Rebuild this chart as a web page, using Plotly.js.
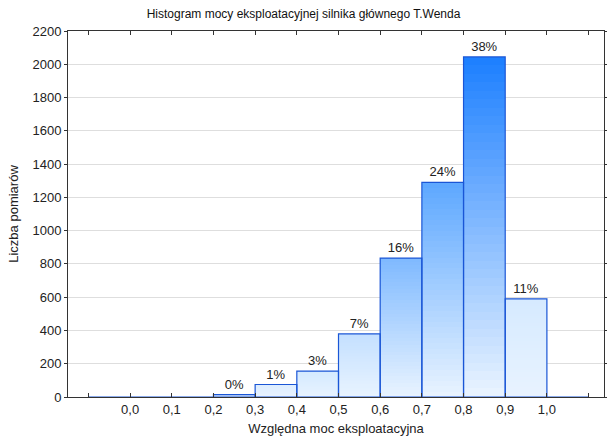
<!DOCTYPE html>
<html>
<head>
<meta charset="utf-8">
<script src="https://cdn.plot.ly/plotly-3.0.1.min.js"></script>
<style>html,body{margin:0;padding:0;background:#fff;}#chart{width:607px;height:444px;}</style>
</head>
<body>
<div id="chart"></div>
<script>
// ---- data ----
var binStarts = [-0.1, 0.0, 0.1, 0.2, 0.3, 0.4, 0.5, 0.6, 0.7, 0.8, 0.9, 1.0];
var counts    = [0, 0, 0, 14, 75, 155, 380, 835, 1290, 2045, 590, 0];
var pctLabels = ['', '', '', '0%', '1%', '3%', '7%', '16%', '24%', '38%', '11%', ''];
var tickVals  = [-0.1, 0.0, 0.1, 0.2, 0.3, 0.4, 0.5, 0.6, 0.7, 0.8, 0.9, 1.0, 1.1];
var tickText  = ['', '0,0', '0,1', '0,2', '0,3', '0,4', '0,5', '0,6', '0,7', '0,8', '0,9', '1,0', ''];

// ---- styling ----
var binWidth = 0.1;
var topColors = ['#e8f3ff','#e8f3ff','#e8f3ff','#c8dcfa','#dcedff','#d4eaff','#c4e0ff','#80baff','#5ea8ff','#1e80ff','#d6eaff','#e8f3ff'];
var bottomColor = '#e8f3ff';
var edgeColor = '#1a56d6';

function hexToRgb(h){h=h.replace('#','');return [parseInt(h.substr(0,2),16),parseInt(h.substr(2,2),16),parseInt(h.substr(4,2),16)];}
function mix(a,b,t){var A=hexToRgb(a),B=hexToRgb(b);return 'rgb('+A.map(function(v,i){return Math.round(v+(B[i]-v)*t);}).join(',')+')';}

var centers = binStarts.map(function(s){return s + binWidth/2;});
var traces = [];
var N = 40;
for (var k = 0; k < N; k++) {
  var f = 1 - k / N;
  traces.push({
    type: 'bar',
    x: centers,
    y: counts.map(function(v){return v * f;}),
    width: binWidth,
    marker: {color: topColors.map(function(c){return mix(c, bottomColor, k/(N-1));}), line: {width: 0}},
    hoverinfo: 'skip',
    showlegend: false
  });
}
// outline + labels
traces.push({
  type: 'bar',
  x: centers,
  y: counts,
  width: binWidth,
  marker: {color: 'rgba(0,0,0,0)', line: {color: edgeColor, width: 1.2}},
  text: pctLabels,
  textposition: 'outside',
  cliponaxis: false,
  textfont: {family: 'Liberation Sans, Arial, sans-serif', size: 13, color: '#222'},
  showlegend: false
});

var layout = {
  width: 607, height: 444,
  margin: {l: 68, r: 3, t: 31, b: 47},
  paper_bgcolor: '#fff', plot_bgcolor: '#fff',
  barmode: 'overlay',
  bargap: 0,
  font: {family: 'Liberation Sans, Arial, sans-serif', size: 13, color: '#222'},
  title: {text: 'Histogram mocy eksploatacyjnej silnika głównego T.Wenda', x: 0.5, xanchor: 'center', y: 0.978, yanchor: 'top', font: {size: 12, color: '#111'}},
  xaxis: {
    range: [-0.149, 1.137],
    tickvals: tickVals, ticktext: tickText,
    ticks: 'inside', ticklen: 4, tickcolor: '#333',
    showline: true, linecolor: '#333', linewidth: 1, mirror: 'ticks',
    showgrid: false, zeroline: false,
    tickfont: {size: 13, color: '#222'},
    title: {text: 'Względna moc eksploatacyjna', font: {size: 13, color: '#222'}, standoff: 8}
  },
  yaxis: {
    range: [0, 2200], dtick: 200,
    ticks: 'outside', ticklen: 3, tickcolor: '#333',
    showline: true, linecolor: '#333', linewidth: 1, mirror: 'ticks',
    showgrid: true, gridcolor: '#dedede', gridwidth: 1, zeroline: false,
    tickfont: {size: 13, color: '#222'},
    title: {text: 'Liczba pomiarów', font: {size: 13, color: '#222'}, standoff: 10}
  }
};

Plotly.newPlot('chart', traces, layout, {displayModeBar: false, staticPlot: true});
</script>
</body>
</html>
